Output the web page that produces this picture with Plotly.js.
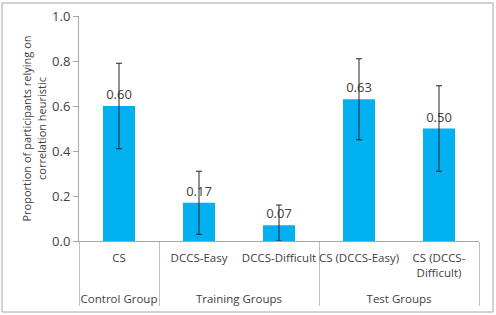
<!DOCTYPE html>
<html>
<head>
<meta charset="utf-8">
<script src="https://cdn.plot.ly/plotly-3.0.1.min.js"></script>
<style>html,body{margin:0;padding:0;background:#fff;}#chart{width:496px;height:315px;}</style>
</head>
<body>
<div id="chart"></div>
<script>
const groups = ["Control Group", "Training Groups", "Training Groups", "Test Groups", "Test Groups"];
const categories = ["CS", "DCCS-Easy", "DCCS-Difficult", "CS (DCCS-Easy)", "CS (DCCS-<br>Difficult)<br>&nbsp;"];
const proportions = [0.60, 0.17, 0.07, 0.63, 0.50];
const errPlus = [0.19, 0.14, 0.09, 0.18, 0.19];
const errMinus = [0.19, 0.14, 0.07, 0.18, 0.19];

const FONT = "Open Sans, Liberation Sans, sans-serif";
const TXT = "#404040";

const trace = {
  type: "bar",
  x: [groups, categories],
  y: proportions,
  width: 0.4,
  marker: {color: "#00B0F0"},
  error_y: {type: "data", symmetric: false, array: errPlus, arrayminus: errMinus,
            color: "#262626", thickness: 1, width: 3},
  texttemplate: "%{y:.2f}",
  textposition: "outside",
  textfont: {family: FONT, size: 13, color: TXT},
  cliponaxis: false,
  hoverinfo: "none"
};

const layout = {
  width: 496, height: 315,
  margin: {l: 79, r: 17, t: 16, b: 74},
  paper_bgcolor: "#fff", plot_bgcolor: "#fff",
  showlegend: false,
  font: {family: FONT, size: 12, color: TXT},
  xaxis: {
    type: "multicategory",
    range: [-0.5, 4.5],
    tickangle: 0,
    automargin: false,
    showline: true, linecolor: "#A6A6A6", linewidth: 1,
    showgrid: false, zeroline: false,
    ticks: "",
    ticklabelstandoff: 6,
    showdividers: true, dividercolor: "#BFBFBF", dividerwidth: 1,
    tickfont: {family: FONT, size: 11.5, color: TXT}
  },
  yaxis: {
    range: [0, 1], dtick: 0.2, tickformat: ".1f",
    automargin: false,
    showline: true, linecolor: "#A6A6A6", linewidth: 1,
    ticks: "outside", ticklen: 5, tickcolor: "#A6A6A6",
    showgrid: false, zeroline: false,
    tickfont: {family: FONT, size: 13, color: TXT},
    title: {text: "Proportion of participants relying on<br>correlation heuristic",
            font: {family: FONT, size: 11, color: TXT}, standoff: 3}
  },
  shapes: [{type: "rect", xref: "paper", yref: "paper",
            x0: -77/400, x1: 414/400, y0: -71/225, y1: 238/225,
            line: {color: "#A6A6A6", width: 1}, fillcolor: "rgba(0,0,0,0)"}]
};

Plotly.newPlot("chart", [trace], layout, {staticPlot: true, displayModeBar: false});
</script>
</body>
</html>
